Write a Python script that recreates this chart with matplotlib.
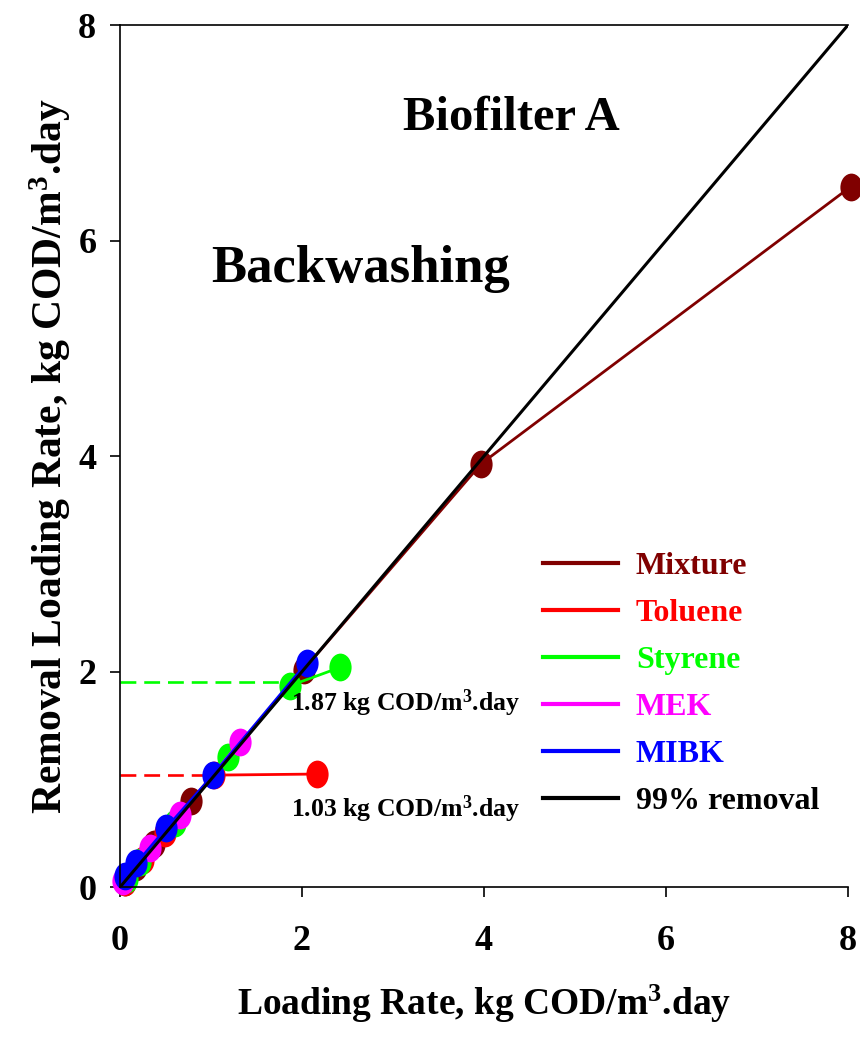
import matplotlib as mpl
mpl.use('Agg')
import matplotlib.pyplot as plt
from matplotlib.path import Path
from matplotlib.transforms import Affine2D

#
#--- data
#
mix_x  = [0.05, 0.18, 0.37, 0.78, 2.02, 3.97, 8.03]
mix_y  = [0.05, 0.19, 0.40, 0.80, 2.02, 3.93, 6.50]
tol_x  = [0.05, 0.25, 0.50, 1.03, 2.16]
tol_y  = [0.05, 0.25, 0.50, 1.04, 1.05]
sty_x  = [0.08, 0.22, 0.60, 1.19, 1.87, 2.42]
sty_y  = [0.08, 0.23, 0.60, 1.21, 1.87, 2.04]
mek_x  = [0.03, 0.33, 0.66, 1.32]
mek_y  = [0.06, 0.36, 0.67, 1.35]
mibk_x = [0.06, 0.18, 0.51, 1.02, 2.05]
mibk_y = [0.10, 0.22, 0.55, 1.04, 2.08]
rem_x  = [0.0, 8.0]
rem_y  = [0.0, 8.0]

sty_lim = 1.90
tol_lim = 1.04

names  = ['Mixture', 'Toluene', 'Styrene', 'MEK', 'MIBK']
colors = ['#800000', '#ff0000', '#00ff00', '#ff00ff', '#0000ff']
xsets  = [mix_x, tol_x, sty_x, mek_x, mibk_x]
ysets  = [mix_y, tol_y, sty_y, mek_y, mibk_y]

ticks = [0, 2, 4, 6, 8]

#
#--- fonts
#
mpl.rcParams['font.family'] = 'Liberation Serif'
mpl.rcParams['font.weight'] = 'bold'
mpl.rcParams['axes.labelweight'] = 'bold'
mpl.rcParams['mathtext.fontset'] = 'custom'
mpl.rcParams['mathtext.rm'] = 'Liberation Serif:bold'
mpl.rcParams['mathtext.bf'] = 'Liberation Serif:bold'
mpl.rcParams['mathtext.it'] = 'Liberation Serif:bold'

#
#--- slightly tall oval marker, like the original
#
oval = Path.unit_circle().transformed(Affine2D().scale(0.8, 1.0))

fig = plt.figure(figsize=(8.6, 10.45), dpi=100)
ax = fig.add_axes([0.1395, 0.151, 0.8465, 0.825])

#
#--- dashed limit lines
#
ax.plot([0, 1.87], [sty_lim, sty_lim], color='#00ff00', lw=1.9, ls=(0, (6, 3)))
ax.plot([0, 1.0], [tol_lim, tol_lim], color='#ff0000', lw=1.9, ls=(0, (6, 3)))

handles = []
for i in range(len(names)):
    p, = ax.plot(xsets[i], ysets[i], color=colors[i], lw=2, marker=oval,
                 markersize=20, markeredgewidth=0, clip_on=False, label=names[i])
    handles.append(p)

p, = ax.plot(rem_x, rem_y, color='black', lw=2.2, zorder=5, label='99% removal')
handles.append(p)

ax.set_xlim(0, 8)
ax.set_ylim(0, 8)
ax.set_xticks(ticks)
ax.set_yticks(ticks)
ax.tick_params(direction='out', length=7, width=1.2, labelsize=26)
ax.tick_params(axis='x', pad=20)
ax.tick_params(axis='y', pad=10)
for lab in ax.get_xticklabels() + ax.get_yticklabels():
    lab.set_fontweight('bold')
ax.spines['right'].set_visible(False)
for s in ['left', 'top', 'bottom']:
    ax.spines[s].set_linewidth(1.2)

ax.set_xlabel(r'Loading Rate, kg COD/m$^{3}$.day', fontsize=27, labelpad=18)
ax.set_ylabel(r'Removal Loading Rate, kg COD/m$^{3}$.day', fontsize=30, labelpad=4)

ax.text(4.3, 7.14, 'Biofilter A', fontsize=35, ha='center', va='center')
ax.text(2.64, 5.74, 'Backwashing', fontsize=38, ha='center', va='center')
ax.text(1.88, 1.71, r'1.87 kg COD/m$^{3}$.day', fontsize=18.5, ha='left', va='center')
ax.text(1.88, 0.72, r'1.03 kg COD/m$^{3}$.day', fontsize=18.5, ha='left', va='center')

leg = ax.legend(handles=handles, loc='upper left', bbox_to_anchor=(0.581, 0.389),
                frameon=False, fontsize=23, labelcolor='linecolor',
                handlelength=2.35, handletextpad=0.56, labelspacing=0.55,
                borderpad=0, borderaxespad=0)
for h in leg.legend_handles:
    h.set_marker('')
    h.set_linewidth(3)

plt.savefig('out.png', dpi=100)
